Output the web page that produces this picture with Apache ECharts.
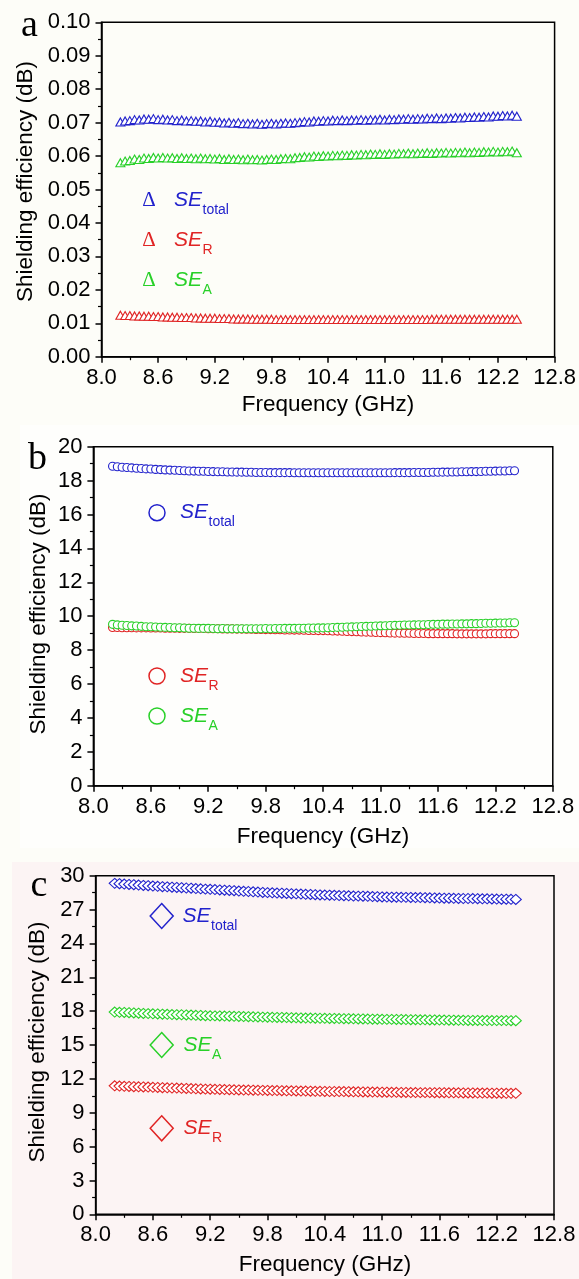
<!DOCTYPE html>
<html>
<head>
<meta charset="utf-8">
<script src="https://cdn.jsdelivr.net/npm/echarts@6/dist/echarts.min.js"></script>
<style>
html,body{margin:0;padding:0;background:#fdfdf8;}
#c{width:579px;height:1279px;}
</style>
</head>
<body>
<div id="c"></div>
<script>
// Frequency (GHz)
const freq = [8.20,8.25,8.30,8.35,8.40,8.45,8.50,8.55,8.60,8.65,8.70,8.75,8.80,8.85,8.90,8.95,9.00,9.05,9.10,9.15,9.20,9.25,9.30,9.35,9.40,9.45,9.50,9.55,9.60,9.65,9.70,9.75,9.80,9.85,9.90,9.95,10.00,10.05,10.10,10.15,10.20,10.25,10.30,10.35,10.40,10.45,10.50,10.55,10.60,10.65,10.70,10.75,10.80,10.85,10.90,10.95,11.00,11.05,11.10,11.15,11.20,11.25,11.30,11.35,11.40,11.45,11.50,11.55,11.60,11.65,11.70,11.75,11.80,11.85,11.90,11.95,12.00,12.05,12.10,12.15,12.20,12.25,12.30,12.35,12.40];

// Panel a (dB)
const aTotal = [.0702,.0705,.0706,.0709,.0708,.0711,.0710,.0712,.0709,.0710,.0708,.0709,.0706,.0708,.0705,.0706,.0704,.0705,.0702,.0704,.0701,.0702,.0699,.0701,.0698,.0700,.0697,.0698,.0696,.0698,.0695,.0697,.0698,.0696,.0698,.0699,.0698,.0700,.0701,.0703,.0702,.0705,.0704,.0706,.0705,.0707,.0706,.0708,.0706,.0708,.0707,.0709,.0707,.0709,.0708,.0710,.0708,.0710,.0709,.0711,.0710,.0712,.0710,.0712,.0711,.0713,.0712,.0714,.0712,.0714,.0713,.0715,.0714,.0716,.0715,.0717,.0716,.0718,.0717,.0720,.0719,.0721,.0720,.0722,.0719];
const aR = [.0124,.0123,.0123,.0122,.0122,.0121,.0121,.0120,.0120,.0119,.0119,.0118,.0118,.0117,.0117,.0117,.0116,.0116,.0115,.0115,.0115,.0114,.0114,.0114,.0113,.0113,.0113,.0113,.0112,.0112,.0112,.0112,.0112,.0111,.0111,.0111,.0111,.0111,.0111,.0111,.0111,.0111,.0111,.0111,.0111,.0111,.0111,.0111,.0111,.0111,.0111,.0111,.0111,.0111,.0111,.0111,.0111,.0111,.0111,.0111,.0111,.0111,.0111,.0111,.0111,.0111,.0112,.0112,.0112,.0112,.0112,.0112,.0112,.0112,.0112,.0112,.0112,.0112,.0112,.0112,.0112,.0112,.0112,.0112,.0112];
const aA = [.0580,.0585,.0587,.0591,.0590,.0594,.0593,.0596,.0594,.0596,.0594,.0595,.0593,.0595,.0593,.0594,.0592,.0594,.0592,.0593,.0591,.0593,.0590,.0592,.0590,.0591,.0589,.0591,.0589,.0590,.0588,.0590,.0591,.0590,.0592,.0593,.0592,.0595,.0596,.0598,.0597,.0600,.0599,.0601,.0600,.0602,.0601,.0603,.0602,.0604,.0603,.0605,.0604,.0606,.0605,.0607,.0605,.0607,.0606,.0608,.0607,.0609,.0607,.0609,.0608,.0610,.0608,.0610,.0609,.0611,.0609,.0611,.0610,.0612,.0610,.0612,.0611,.0613,.0612,.0614,.0612,.0614,.0613,.0615,.0610];

// Panel b (dB)
const bTotal = [18.85,18.82,18.79,18.77,18.75,18.73,18.71,18.69,18.68,18.66,18.65,18.63,18.62,18.61,18.60,18.58,18.57,18.56,18.55,18.55,18.54,18.53,18.52,18.52,18.51,18.51,18.50,18.50,18.49,18.49,18.48,18.48,18.48,18.47,18.47,18.47,18.47,18.47,18.46,18.46,18.46,18.46,18.46,18.46,18.46,18.46,18.46,18.46,18.46,18.46,18.46,18.46,18.46,18.46,18.46,18.46,18.46,18.46,18.46,18.47,18.47,18.47,18.47,18.48,18.48,18.48,18.48,18.49,18.49,18.50,18.50,18.51,18.51,18.52,18.52,18.53,18.53,18.54,18.55,18.55,18.56,18.57,18.57,18.58,18.58];
const bR = [9.33,9.33,9.32,9.32,9.32,9.31,9.31,9.31,9.30,9.30,9.30,9.29,9.29,9.29,9.28,9.28,9.28,9.27,9.27,9.27,9.26,9.26,9.26,9.25,9.25,9.25,9.24,9.24,9.23,9.23,9.22,9.22,9.21,9.21,9.20,9.20,9.19,9.19,9.18,9.18,9.17,9.16,9.16,9.15,9.15,9.14,9.13,9.12,9.11,9.10,9.09,9.08,9.07,9.06,9.05,9.04,9.03,9.02,9.01,9.00,9.00,8.99,8.99,8.98,8.98,8.98,8.97,8.97,8.97,8.97,8.97,8.97,8.96,8.96,8.96,8.96,8.96,8.96,8.96,8.97,8.97,8.97,8.97,8.97,8.97];
const bA = [9.52,9.49,9.47,9.45,9.43,9.42,9.40,9.38,9.38,9.36,9.35,9.34,9.33,9.32,9.32,9.30,9.29,9.29,9.28,9.28,9.28,9.27,9.26,9.27,9.26,9.26,9.26,9.26,9.26,9.26,9.26,9.26,9.27,9.26,9.27,9.27,9.28,9.28,9.28,9.29,9.29,9.30,9.30,9.31,9.31,9.32,9.33,9.34,9.35,9.36,9.37,9.38,9.39,9.40,9.41,9.42,9.43,9.44,9.45,9.46,9.47,9.48,9.48,9.49,9.50,9.50,9.51,9.52,9.52,9.53,9.53,9.54,9.54,9.55,9.55,9.56,9.56,9.57,9.58,9.58,9.59,9.60,9.60,9.61,9.61];

// Panel c (dB)
const cTotal = [29.32,29.29,29.26,29.23,29.20,29.17,29.14,29.11,29.08,29.06,29.03,29.01,28.98,28.96,28.94,28.91,28.89,28.86,28.84,28.81,28.79,28.77,28.74,28.72,28.69,28.67,28.64,28.62,28.60,28.57,28.55,28.52,28.50,28.48,28.46,28.45,28.43,28.41,28.39,28.37,28.35,28.34,28.32,28.30,28.28,28.27,28.26,28.24,28.23,28.22,28.20,28.19,28.18,28.17,28.15,28.14,28.12,28.11,28.10,28.10,28.09,28.08,28.07,28.06,28.06,28.05,28.04,28.03,28.02,28.01,28.01,28.00,27.99,27.98,27.98,27.97,27.96,27.95,27.95,27.94,27.93,27.92,27.92,27.91,27.90];
const cA = [17.92,17.90,17.88,17.86,17.84,17.82,17.80,17.78,17.76,17.75,17.73,17.72,17.70,17.69,17.68,17.66,17.65,17.63,17.62,17.60,17.59,17.58,17.57,17.56,17.55,17.54,17.53,17.52,17.51,17.50,17.49,17.47,17.46,17.45,17.44,17.44,17.43,17.42,17.41,17.40,17.39,17.39,17.38,17.37,17.36,17.35,17.35,17.34,17.33,17.33,17.32,17.31,17.31,17.30,17.29,17.29,17.28,17.27,17.27,17.26,17.26,17.25,17.24,17.24,17.23,17.23,17.22,17.22,17.21,17.21,17.20,17.20,17.19,17.19,17.18,17.18,17.18,17.17,17.17,17.17,17.16,17.16,17.16,17.15,17.15];
const cR = [11.38,11.36,11.34,11.33,11.31,11.30,11.28,11.27,11.25,11.24,11.22,11.21,11.19,11.18,11.16,11.15,11.14,11.12,11.11,11.09,11.08,11.07,11.06,11.05,11.04,11.03,11.02,11.01,11.01,11.00,10.99,10.98,10.97,10.96,10.96,10.95,10.94,10.94,10.93,10.92,10.92,10.91,10.90,10.90,10.89,10.88,10.88,10.87,10.87,10.86,10.85,10.85,10.84,10.84,10.83,10.83,10.82,10.82,10.81,10.81,10.80,10.80,10.79,10.79,10.78,10.78,10.78,10.77,10.77,10.77,10.76,10.76,10.76,10.75,10.75,10.75,10.74,10.74,10.74,10.73,10.73,10.73,10.72,10.72,10.72];

const xTicks = {min: 8.0, max: 12.8, interval: 0.6};
const yTicksA = {min: 0, max: 0.10, interval: 0.01, dec: 2};
const yTicksB = {min: 0, max: 20, interval: 2, dec: 0};
const yTicksC = {min: 0, max: 30, interval: 3, dec: 0};

const BLUE = '#2222cc', RED = '#e02424', GREEN = '#28d028';
const SANS = 'Liberation Sans', SERIF = 'Liberation Serif';

const chart = echarts.init(document.getElementById('c'), null, {renderer: 'canvas'});

function pair(ys) { return freq.map((f, i) => [f, ys[i]]); }

function xAxis(g) {
  return {
    type: 'value', gridIndex: g, min: xTicks.min, max: xTicks.max, interval: xTicks.interval,
    axisLine: {show: true, onZero: false, lineStyle: {color: '#000', width: 1.5}},
    axisTick: {show: true, inside: false, length: 6, lineStyle: {color: '#000', width: 1.5}},
    minorTick: {show: true, splitNumber: 2, length: 3.5, lineStyle: {color: '#000', width: 1.2}},
    splitLine: {show: false},
    axisLabel: {color: '#000', fontSize: 22, fontFamily: SANS, margin: 10,
      formatter: v => v.toFixed(1)}
  };
}
function yAxis(g, t) {
  return {
    type: 'value', gridIndex: g, min: t.min, max: t.max, interval: t.interval,
    axisLine: {show: true, onZero: false, lineStyle: {color: '#000', width: 1.5}},
    axisTick: {show: true, inside: false, length: 6, lineStyle: {color: '#000', width: 1.5}},
    minorTick: {show: true, splitNumber: 2, length: 3.5, lineStyle: {color: '#000', width: 1.2}},
    splitLine: {show: false},
    axisLabel: {color: '#000', fontSize: 22, fontFamily: SANS, margin: 11,
      formatter: v => v.toFixed(t.dec)}
  };
}
function series(g, ys, color, symbol, size) {
  return {
    type: 'scatter', xAxisIndex: g, yAxisIndex: g, data: pair(ys),
    symbol: symbol, symbolSize: size, silent: true, animation: false,
    itemStyle: {color: '#ffffff', borderColor: color, borderWidth: 1.1, opacity: 1}
  };
}
function txt(x, y, s, opt) {
  return {type: 'text', x: x, y: y, silent: true, z: 100,
    style: Object.assign({text: s, fill: '#000', font: '22.5px ' + SANS, align: 'left', verticalAlign: 'middle'}, opt || {})};
}
function seLabel(x, y, sub, color, subDx) {
  return [
    txt(x, y, 'SE', {fill: color, font: 'italic 21px ' + SANS}),
    txt(x + (subDx || 28.5), y + 10, sub, {fill: color, font: '14px ' + SANS})
  ];
}
function diamond(cx, cy, w, h, color) {
  return {type: 'polygon', silent: true, z: 100,
    shape: {points: [[cx, cy - h / 2], [cx + w / 2, cy], [cx, cy + h / 2], [cx - w / 2, cy]]},
    style: {fill: 'none', stroke: color, lineWidth: 1.5}};
}

const graphics = [
  {type: 'rect', silent: true, z: -10, shape: {x: 20, y: 425, width: 559, height: 423}, style: {fill: '#fefefc'}},
  {type: 'rect', silent: true, z: -10, shape: {x: 12, y: 862, width: 567, height: 417}, style: {fill: '#fcf4f4'}},
  // panel letters
  txt(29.5, 26, 'a', {font: '38px ' + SERIF, align: 'center'}),
  txt(37.5, 459.5, 'b', {font: '38px ' + SERIF, align: 'center'}),
  txt(39, 886, 'c', {font: '38px ' + SERIF, align: 'center'}),
  // axis titles
  txt(328, 405, 'Frequency (GHz)', {align: 'center'}),
  txt(323, 836.7, 'Frequency (GHz)', {align: 'center'}),
  txt(325, 1265, 'Frequency (GHz)', {align: 'center'}),
  Object.assign(txt(26, 181.5, 'Shielding efficiency (dB)', {align: 'center'}), {rotation: Math.PI / 2}),
  Object.assign(txt(38.5, 614, 'Shielding efficiency (dB)', {align: 'center'}), {rotation: Math.PI / 2}),
  Object.assign(txt(37.5, 1042, 'Shielding efficiency (dB)', {align: 'center'}), {rotation: Math.PI / 2}),
  // legend a
  txt(149, 200, 'Δ', {fill: BLUE, font: '21px ' + SERIF, align: 'center'}),
  txt(149, 240, 'Δ', {fill: RED, font: '21px ' + SERIF, align: 'center'}),
  txt(149, 280, 'Δ', {fill: GREEN, font: '21px ' + SERIF, align: 'center'}),
  ...seLabel(174, 200, 'total', BLUE),
  ...seLabel(174, 240, 'R', RED),
  ...seLabel(174, 280, 'A', GREEN),
  // legend b
  {type: 'circle', silent: true, z: 100, shape: {cx: 157, cy: 512.7, r: 8}, style: {fill: 'none', stroke: BLUE, lineWidth: 1.5}},
  {type: 'circle', silent: true, z: 100, shape: {cx: 157, cy: 676, r: 8}, style: {fill: 'none', stroke: RED, lineWidth: 1.5}},
  {type: 'circle', silent: true, z: 100, shape: {cx: 157, cy: 716, r: 8}, style: {fill: 'none', stroke: GREEN, lineWidth: 1.5}},
  ...seLabel(180, 512.5, 'total', BLUE),
  ...seLabel(180, 676, 'R', RED),
  ...seLabel(180, 716, 'A', GREEN),
  // legend c
  diamond(161.7, 916, 23, 25, BLUE),
  diamond(161.7, 1045, 23, 25, GREEN),
  diamond(161.7, 1128.3, 23, 25, RED),
  ...seLabel(182.5, 916, 'total', BLUE),
  ...seLabel(183.5, 1045, 'A', GREEN),
  ...seLabel(183.5, 1128.3, 'R', RED)
];

const gridStyle = {show: true, borderColor: '#000', borderWidth: 1.5, backgroundColor: 'transparent', containLabel: false};

chart.setOption({
  animation: false,
  backgroundColor: 'transparent',
  grid: [
    Object.assign({left: 101.5, top: 22.3, width: 453.5, height: 334.4}, gridStyle),
    Object.assign({left: 93.4, top: 446.7, width: 459.4, height: 339}, gridStyle),
    Object.assign({left: 95.6, top: 875.7, width: 458.4, height: 338.6}, gridStyle)
  ],
  xAxis: [xAxis(0), xAxis(1), xAxis(2)],
  yAxis: [yAxis(0, yTicksA), yAxis(1, yTicksB), yAxis(2, yTicksC)],
  series: [
    series(0, aTotal, BLUE, 'triangle', [9, 8]),
    series(0, aR, RED, 'triangle', [9, 8]),
    series(0, aA, GREEN, 'triangle', [9, 8]),
    series(1, bTotal, BLUE, 'circle', 8),
    series(1, bR, RED, 'circle', 8),
    series(1, bA, GREEN, 'circle', 8),
    series(2, cTotal, BLUE, 'diamond', [11, 10]),
    series(2, cR, RED, 'diamond', [11, 10]),
    series(2, cA, GREEN, 'diamond', [11, 10])
  ],
  graphic: graphics
});
</script>
</body>
</html>
